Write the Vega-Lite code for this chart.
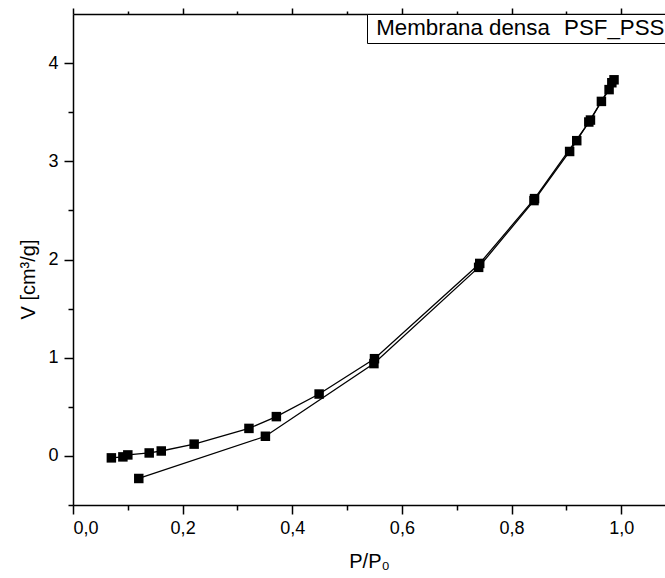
{
  "$schema": "https://vega.github.io/schema/vega-lite/v6.json",
  "autosize": {"type": "none"},
  "padding": {"left": 73, "top": 14, "right": 0, "bottom": 73},
  "width": 592,
  "height": 491,
  "background": "white",
  "config": {
    "view": {"stroke": null},
    "font": "Liberation Sans",
    "axis": {
      "domainColor": "black",
      "domainWidth": 1.5,
      "tickColor": "black",
      "tickWidth": 1.5,
      "grid": false,
      "labelColor": "black",
      "titleColor": "black",
      "labelFont": "Liberation Sans",
      "titleFont": "Liberation Sans",
      "labelFontSize": 18,
      "titleFontSize": 20,
      "titleFontWeight": "normal"
    }
  },
  "data": {
    "values": [
      {"p": 0.120, "v": -0.23, "branch": "ads"},
      {"p": 0.351, "v": 0.20, "branch": "ads"},
      {"p": 0.549, "v": 0.94, "branch": "ads"},
      {"p": 0.740, "v": 1.92, "branch": "ads"},
      {"p": 0.841, "v": 2.60, "branch": "ads"},
      {"p": 0.906, "v": 3.10, "branch": "ads"},
      {"p": 0.919, "v": 3.21, "branch": "ads"},
      {"p": 0.941, "v": 3.40, "branch": "ads"},
      {"p": 0.964, "v": 3.61, "branch": "ads"},
      {"p": 0.978, "v": 3.73, "branch": "ads"},
      {"p": 0.983, "v": 3.80, "branch": "ads"},
      {"p": 0.987, "v": 3.83, "branch": "des"},
      {"p": 0.944, "v": 3.42, "branch": "des"},
      {"p": 0.842, "v": 2.62, "branch": "des"},
      {"p": 0.742, "v": 1.96, "branch": "des"},
      {"p": 0.550, "v": 0.99, "branch": "des"},
      {"p": 0.449, "v": 0.63, "branch": "des"},
      {"p": 0.371, "v": 0.40, "branch": "des"},
      {"p": 0.321, "v": 0.28, "branch": "des"},
      {"p": 0.221, "v": 0.12, "branch": "des"},
      {"p": 0.161, "v": 0.05, "branch": "des"},
      {"p": 0.139, "v": 0.03, "branch": "des"},
      {"p": 0.100, "v": 0.01, "branch": "des"},
      {"p": 0.091, "v": -0.01, "branch": "des"},
      {"p": 0.070, "v": -0.02, "branch": "des"}
    ]
  },
  "layer": [
    {
      "mark": {"type": "line", "strokeWidth": 1.3, "color": "black"},
      "encoding": {
        "x": {
          "field": "p", "type": "quantitative",
          "scale": {"domain": [0, 1.08], "nice": false, "zero": false},
          "axis": {
            "orient": "bottom",
            "title": "P/P₀",
            "values": [0, 0.2, 0.4, 0.6, 0.8, 1.0],
            "labelExpr": "replace(format(datum.value, '.1f'), '.', ',')",
            "tickSize": 9,
            "labelPadding": 5,
            "titlePadding": 14
          }
        },
        "y": {
          "field": "v", "type": "quantitative",
          "scale": {"domain": [-0.5, 4.5], "nice": false, "zero": false},
          "axis": {
            "orient": "left",
            "title": "V [cm³/g]",
            "values": [0, 1, 2, 3, 4],
            "format": "d",
            "tickSize": 9,
            "labelPadding": 6,
            "titlePadding": 9,
            "titleY": 265
          }
        },
        "detail": {"field": "branch"}
      }
    },
    {
      "mark": {"type": "point", "shape": "square", "filled": true, "size": 90, "opacity": 1},
      "encoding": {
        "x": {
          "field": "p", "type": "quantitative",
          "axis": {
            "orient": "bottom",
            "title": null,
            "labels": false,
            "domain": false,
            "values": [0.1, 0.3, 0.5, 0.7, 0.9],
            "tickSize": 5
          }
        },
        "y": {
          "field": "v", "type": "quantitative",
          "axis": {
            "orient": "left",
            "title": null,
            "labels": false,
            "domain": false,
            "values": [-0.5, 0.5, 1.5, 2.5, 3.5],
            "tickSize": 5
          }
        },
        "color": {
          "datum": "Membrana densa\u00a0\u00a0\u200aPSF_PSS",
          "type": "nominal",
          "scale": {"range": ["black"]},
          "legend": {
            "title": null,
            "orient": "none",
            "legendX": 294,
            "legendY": 0,
            "strokeColor": "black",
            "fillColor": "white",
            "padding": 3,
            "symbolOpacity": 0,
            "symbolSize": 1,
            "labelOffset": -16,
            "labelFontSize": 22.3,
            "labelFont": "Liberation Sans",
            "labelColor": "black",
            "labelLimit": 1000
          }
        }
      }
    },
    {
      "mark": {"type": "point", "opacity": 0},
      "encoding": {
        "x": {
          "field": "p", "type": "quantitative",
          "axis": {
            "orient": "top",
            "title": null,
            "labels": false,
            "values": [0, 0.2, 0.4, 0.6, 0.8, 1.0],
            "tickSize": 6
          }
        },
        "y": {"field": "v", "type": "quantitative", "axis": null}
      }
    },
    {
      "mark": {"type": "point", "opacity": 0},
      "encoding": {
        "x": {
          "field": "p", "type": "quantitative",
          "axis": {
            "orient": "top",
            "title": null,
            "labels": false,
            "domain": false,
            "values": [0.1, 0.3, 0.5, 0.7, 0.9],
            "tickSize": 3
          }
        },
        "y": {"field": "v", "type": "quantitative", "axis": null}
      }
    }
  ],
  "resolve": {"axis": {"x": "independent", "y": "independent"}}
}
